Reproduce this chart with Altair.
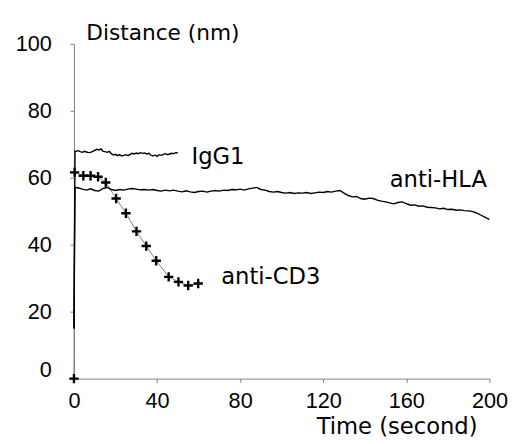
import altair as alt
import pandas as pd

# anti-CD3 (markers + thin gray line)
cd3_t = [0, 0.3, 4.5, 8, 11.6, 15.3, 20.3, 25, 30.1, 34.8, 39.6, 45.6, 50.3, 55, 59.8]
cd3_v = [0, 61.6, 60.6, 60.6, 60.3, 58.6, 53.8, 49.4, 44, 39.6, 35.2, 30.4, 28.9, 27.8, 28.4]

# IgG1
igg_t = [0, 0.5] + list(range(1, 51))
igg_v = [15, 67.9,
         67.9, 68.1, 67.8, 67.6, 67.9, 67.7, 67.5, 67.6, 67.9, 68.2,
         68.5, 68.3, 68.6, 67.9, 67.8, 67.6, 67.9, 67.2, 66.8, 67.0,
         66.6, 66.9, 66.5, 66.7, 66.9, 66.6, 67.0, 67.3, 67.1, 67.4,
         67.2, 67.5, 67.3, 67.4, 67.1, 67.3, 66.8, 66.5, 66.8, 66.4,
         66.9, 66.7, 67.0, 67.2, 66.9, 67.1, 67.3, 67.2, 67.5, 67.4]

# anti-HLA
hla_t = [0, 0.5] + list(range(2, 201, 2))
hla_v = [15, 57.1,
         57.0, 56.6, 56.3, 56.7, 56.2, 56.0, 56.8, 57.1, 56.5, 56.2,
         56.5, 56.3, 56.6, 56.8, 56.6, 56.4, 56.5, 56.3, 56.5, 56.2,
         56.0, 56.3, 56.1, 56.3, 56.0, 55.8, 56.1, 55.8, 55.6, 55.9,
         56.0, 55.7, 56.0, 56.2, 56.0, 56.3, 56.2, 56.5, 56.4, 56.6,
         56.3, 56.7, 56.9, 57.1, 56.5, 56.3, 55.9, 55.7, 55.9, 55.6,
         55.4, 55.6, 55.3, 55.5, 55.4, 55.6, 55.3, 55.5, 55.7, 55.6,
         55.9, 55.7, 56.0, 56.2, 55.4, 54.7, 54.3, 54.4, 53.8, 53.6,
         53.9, 53.8, 53.3, 53.0, 52.8, 52.5, 52.2, 52.6, 52.8, 52.3,
         51.8, 51.9, 51.5, 51.6, 51.2, 51.1, 51.0, 50.7, 50.9, 50.5,
         50.6, 50.3, 50.4, 50.2, 50.1, 49.9, 49.4, 48.8, 48.2, 47.6]

# annotation labels
lab_text = ["IgG1", "anti-HLA", "anti-CD3"]
lab_t = [56.6, 152.0, 70.9]
lab_v = [64.1, 57.1, 28.4]

x_ticks = [0, 40, 80, 120, 160, 200]
y_ticks = [0, 20, 40, 60, 80, 100]

cd3 = pd.DataFrame({"t": cd3_t, "v": cd3_v})
igg = pd.DataFrame({"t": igg_t, "v": igg_v})
hla = pd.DataFrame({"t": hla_t, "v": hla_v})
labs = pd.DataFrame({"t": lab_t, "v": lab_v, "text": lab_text})

xs = alt.Scale(domain=[0, 200], nice=False, zero=False)
ys = alt.Scale(domain=[0, 100], nice=False)

x_axis = alt.Axis(values=x_ticks, title="Time (second)", grid=False,
                  domainColor="#808080", tickColor="#808080", tickSize=4,
                  labelFont="Liberation Sans", labelFontSize=22, labelColor="black",
                  labelPadding=8, labelFlush=False, labelOverlap=False,
                  titleFont="DejaVu Sans", titleFontSize=23, titleFontWeight="normal",
                  titleColor="black", titleAngle=0, titleAlign="left",
                  titleBaseline="alphabetic", titleX=246, titleY=56, titleAnchor="start")
y_axis = alt.Axis(values=y_ticks, title="Distance (nm)", grid=False,
                  domainColor="#808080", tickColor="#808080", tickSize=4,
                  labelFont="Liberation Sans", labelFontSize=22, labelColor="black",
                  labelPadding=19, labelFlush=False, labelOverlap=False,
                  labelOffset={"condition": {"test": "datum.value === 0", "value": -9}, "value": 0},
                  titleFont="DejaVu Sans", titleFontSize=22, titleFontWeight="normal",
                  titleColor="black", titleAngle=0, titleAlign="left",
                  titleBaseline="alphabetic", titleX=12, titleY=-4, titleAnchor="start")

X = alt.X("t:Q", scale=xs, axis=x_axis)
Y = alt.Y("v:Q", scale=ys, axis=y_axis)

cd3_line = alt.Chart(cd3).mark_line(color="#808080", strokeWidth=1).encode(x=X, y=Y)
cd3_pts = alt.Chart(cd3).mark_point(
    shape="M-1,0H1M0,-1V1", size=90, stroke="black", strokeWidth=2.4,
    filled=False, opacity=1).encode(x="t:Q", y="v:Q")
igg_line = alt.Chart(igg).mark_line(color="black", strokeWidth=1.4).encode(x="t:Q", y="v:Q")
hla_line = alt.Chart(hla).mark_line(color="black", strokeWidth=1.4).encode(x="t:Q", y="v:Q")
text = alt.Chart(labs).mark_text(font="DejaVu Sans", fontSize=23, align="left",
                                 baseline="alphabetic", color="black").encode(
    x="t:Q", y="v:Q", text="text:N")

chart = alt.layer(cd3_line, hla_line, igg_line, cd3_pts, text).properties(
    width=422, height=340,
    autosize=alt.AutoSizeParams(type="none"),
    padding={"left": 67, "top": 33, "right": 28, "bottom": 63},
).configure(background="white").configure_view(stroke=None)

chart.save("out.html", embed_options={"renderer": "svg", "actions": False})
